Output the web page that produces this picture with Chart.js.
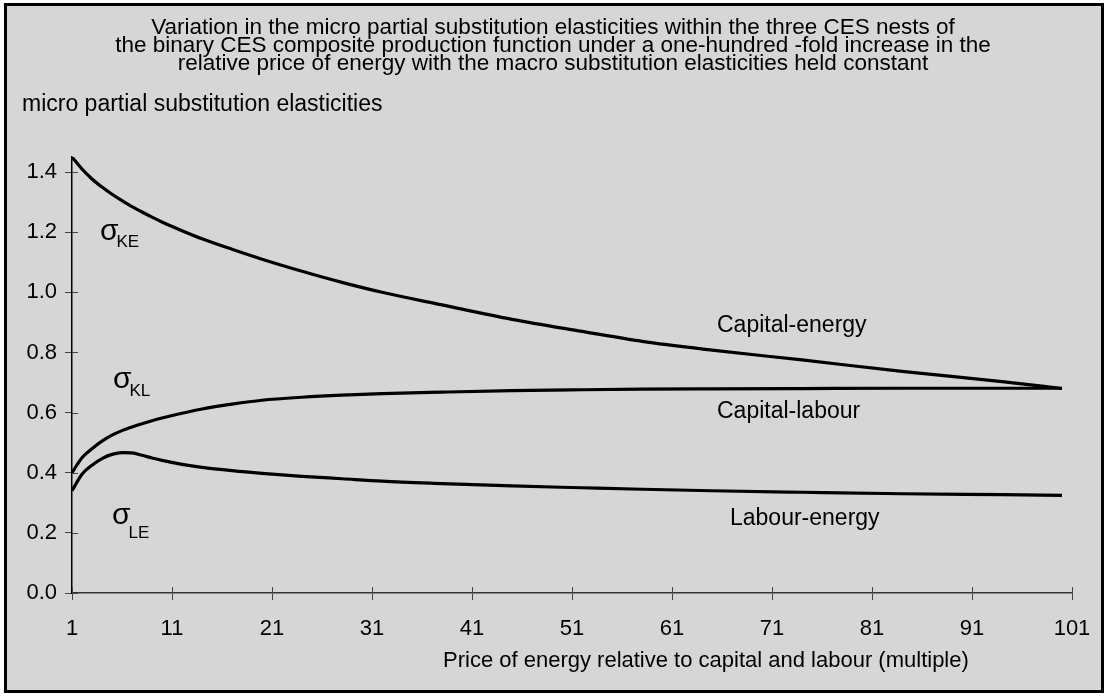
<!DOCTYPE html>
<html><head><meta charset="utf-8">
<script src="https://cdn.jsdelivr.net/npm/chart.js@4.4.1/dist/chart.umd.min.js"></script>
<style>html,body{margin:0;padding:0;background:#fff;}</style>
</head><body>
<canvas id="c" width="1107" height="696"></canvas>
<script>
// ---- data ----
const priceMultiple = [1,2,3,4,5,6,7,8,9,10,12,14,17,20,24,28,32,38,45,52,58,65,74,84,94,100];
const capitalEnergy = [1.45,1.41,1.377,1.35,1.326,1.305,1.285,1.267,1.25,1.234,1.205,1.178,1.143,1.11,1.07,1.033,1.0,0.958,0.91,0.87,0.837,0.808,0.775,0.737,0.703,0.68];
const capitalLabour = [0.40,0.45,0.48,0.505,0.525,0.54,0.552,0.563,0.573,0.582,0.598,0.612,0.628,0.641,0.651,0.658,0.663,0.668,0.673,0.676,0.678,0.679,0.680,0.681,0.681,0.681];
const labourEnergy  = [0.34,0.395,0.425,0.447,0.461,0.467,0.466,0.458,0.449,0.441,0.428,0.418,0.407,0.398,0.388,0.38,0.372,0.364,0.356,0.35,0.345,0.34,0.335,0.33,0.327,0.325];
const xTickValues = [1,11,21,31,41,51,61,71,81,91,101];
const yTickValues = [0,0.2,0.4,0.6,0.8,1.0,1.2,1.4];
const titleLines = [
  'Variation in the micro partial substitution elasticities within the three CES nests of',
  'the binary CES composite production function under a one-hundred -fold increase in the',
  'relative price of energy with the macro substitution elasticities held constant'
];
const yAxisTitle = 'micro partial substitution elasticities';
const xAxisTitle = 'Price of energy relative to capital and labour (multiple)';
const seriesNames = ['Capital-energy','Capital-labour','Labour-energy'];
const sigmaSubs = ['KE','KL','LE'];

const FONT = '"Liberation Sans", Arial, Helvetica, sans-serif';

function pts(arr){ return priceMultiple.map((x,i)=>({x:x, y:arr[i]})); }

const decor = {
  id:'decor',
  beforeDraw(chart){
    const ctx = chart.ctx;
    ctx.save();
    ctx.fillStyle = '#fff';
    ctx.fillRect(0,0,chart.width,chart.height);
    ctx.fillStyle = '#d6d6d6';
    ctx.fillRect(5,4,1098,688);
    ctx.strokeStyle = '#000';
    ctx.lineWidth = 3;
    ctx.strokeRect(5.5,4.5,1097,687);
    ctx.restore();
  },
  afterDraw(chart){
    const ctx = chart.ctx;
    const xs = chart.scales.x, ys = chart.scales.y;
    ctx.save();
    // inner halves of tick marks
    ctx.strokeStyle = '#444'; ctx.lineWidth = 1;
    ctx.beginPath();
    yTickValues.forEach(v=>{ const py = Math.round(ys.getPixelForValue(v))+0.5; ctx.moveTo(xs.left, py); ctx.lineTo(xs.left+6, py); });
    xTickValues.forEach(v=>{ const px = Math.round(xs.getPixelForValue(v))+0.5; ctx.moveTo(px, ys.bottom); ctx.lineTo(px, ys.bottom-6); });
    ctx.stroke();
    ctx.fillStyle = '#000';
    // chart title
    ctx.font = '22.5px ' + FONT;
    ctx.textAlign = 'center'; ctx.textBaseline = 'middle';
    titleLines.forEach((t,i)=>ctx.fillText(t, 553, 28 + i*18));
    ctx.textAlign = 'left'; ctx.textBaseline = 'alphabetic';
    // y axis title
    ctx.font = '23px ' + FONT;
    ctx.fillText(yAxisTitle, 22, 111);
    // x axis title
    ctx.font = '22px ' + FONT;
    ctx.fillText(xAxisTitle, 443, 667);
    // series labels
    ctx.font = '23px ' + FONT;
    ctx.fillText(seriesNames[0], xs.getPixelForValue(65.5), ys.getPixelForValue(0.868));
    ctx.fillText(seriesNames[1], xs.getPixelForValue(65.5), ys.getPixelForValue(0.582));
    ctx.fillText(seriesNames[2], xs.getPixelForValue(66.8), ys.getPixelForValue(0.226));
    // sigma labels
    const sig = [[3.8,1.20],[5.1,0.708],[5.0,0.256]];
    const subDy = [15,16,22];
    sig.forEach((s,i)=>{
      const px = xs.getPixelForValue(s[0]), py = ys.getPixelForValue(s[1]);
      ctx.font = '30px ' + FONT;
      ctx.textBaseline = 'middle';
      ctx.fillText('\u03C3', px, py);
      const w = ctx.measureText('\u03C3').width;
      ctx.font = '17px ' + FONT;
      ctx.textBaseline = 'alphabetic';
      ctx.fillText(sigmaSubs[i], px + w - 2, py + subDy[i]);
    });
    ctx.restore();
  }
};

const lineStyle = {borderColor:'#000', borderWidth:3.2, pointRadius:0, fill:false, cubicInterpolationMode:'monotone'};

new Chart(document.getElementById('c'), {
  type:'line',
  data:{ datasets:[
    Object.assign({label:seriesNames[0], data:pts(capitalEnergy)}, lineStyle),
    Object.assign({label:seriesNames[1], data:pts(capitalLabour)}, lineStyle),
    Object.assign({label:seriesNames[2], data:pts(labourEnergy)}, lineStyle)
  ]},
  options:{
    responsive:false, animation:false, devicePixelRatio:1,
    layout:{padding:{left:0,right:35,top:157,bottom:0}},
    plugins:{ legend:{display:false}, tooltip:{enabled:false}, title:{display:false} },
    scales:{
      x:{type:'linear', min:1, max:101,
        afterBuildTicks(s){ s.ticks = xTickValues.map(v=>({value:v})); },
        afterFit(s){ s.height = 103; },
        grid:{drawOnChartArea:false, drawTicks:true, tickLength:7, color:'#444'},
        border:{display:true, color:'#333', width:1.5},
        ticks:{color:'#000', font:{family:FONT, size:22}, padding:16, maxRotation:0, autoSkip:false,
          callback:(v)=>String(v)}
      },
      y:{type:'linear', min:0, max:1.45,
        afterBuildTicks(s){ s.ticks = yTickValues.map(v=>({value:v})); },
        afterFit(s){ s.width = 72; },
        grid:{drawOnChartArea:false, drawTicks:true, tickLength:7, color:'#444'},
        border:{display:true, color:'#000', width:1.5},
        ticks:{color:'#000', font:{family:FONT, size:22}, padding:8,
          callback:(v)=>Number(v).toFixed(1)}
      }
    }
  },
  plugins:[decor]
});
</script>
</body></html>
